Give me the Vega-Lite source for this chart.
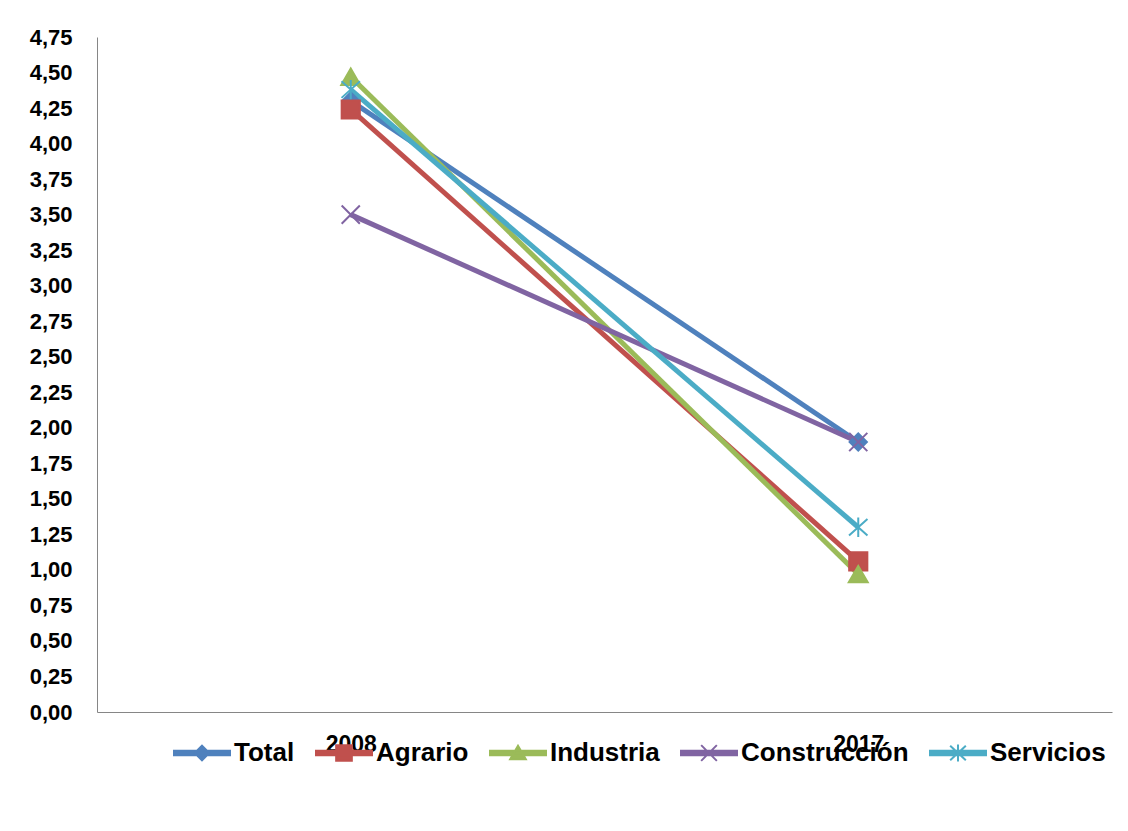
{
  "$schema": "https://vega.github.io/schema/vega-lite/v6.json",
  "width": 1015,
  "height": 675,
  "autosize": {"type": "none"},
  "padding": {"left": 97, "top": 37, "right": 16, "bottom": 119},
  "background": "white",
  "config": {"view": {"stroke": null}, "font": "Liberation Sans"},
  "data": {
    "values": [
      {"series": "Total", "year": "2008", "value": 4.30},
      {"series": "Total", "year": "2017", "value": 1.90},
      {"series": "Agrario", "year": "2008", "value": 4.24},
      {"series": "Agrario", "year": "2017", "value": 1.06},
      {"series": "Industria", "year": "2008", "value": 4.47},
      {"series": "Industria", "year": "2017", "value": 0.97},
      {"series": "Construcción", "year": "2008", "value": 3.50},
      {"series": "Construcción", "year": "2017", "value": 1.90},
      {"series": "Servicios", "year": "2008", "value": 4.38},
      {"series": "Servicios", "year": "2017", "value": 1.30}
    ]
  },
  "encoding": {
    "x": {
      "field": "year", "type": "ordinal",
      "scale": {"type": "point", "padding": 0.5},
      "axis": {
        "title": null, "labelAngle": 0, "domainColor": "#868686", "domainWidth": 1,
        "ticks": false, "tickSize": 0, "labelFont": "Liberation Sans", "labelFontSize": 23,
        "labelFontWeight": "bold", "labelColor": "black", "labelPadding": 21
      }
    },
    "y": {
      "field": "value", "type": "quantitative",
      "scale": {"domain": [0, 4.75], "nice": false, "zero": true},
      "axis": {
        "title": null, "grid": false, "ticks": false, "tickSize": 0,
        "values": [0, 0.25, 0.5, 0.75, 1, 1.25, 1.5, 1.75, 2, 2.25, 2.5, 2.75, 3, 3.25, 3.5, 3.75, 4, 4.25, 4.5, 4.75],
        "labelExpr": "replace(format(datum.value, '.2f'), '.', ',')",
        "domainColor": "#868686", "domainWidth": 1,
        "labelFont": "Liberation Sans", "labelFontSize": 22, "labelFontWeight": "bold",
        "labelColor": "black", "labelPadding": 25
      }
    }
  },
  "layer": [
    {
      "mark": {"type": "line", "strokeWidth": 5, "strokeJoin": "round"},
      "encoding": {
        "color": {
          "field": "series", "type": "nominal",
          "scale": {
            "domain": ["Total", "Agrario", "Industria", "Construcción", "Servicios"],
            "range": ["#4F81BD", "#C0504D", "#9BBB59", "#8064A2", "#4BACC6"]
          },
          "legend": {
            "orient": "none", "direction": "horizontal", "legendX": 76, "legendY": 687,
            "title": null, "padding": 0, "symbolSize": 3136,
            "labelFont": "Liberation Sans", "labelFontSize": 26, "labelFontWeight": "bold",
            "labelColor": "black", "labelOffset": 3, "columnPadding": 17, "labelLimit": 0,
            "symbolStrokeWidth": 2,
            "encoding": {
              "symbols": {
                "shape": {"value": {"expr": "datum.value === 'Total' ? 'M-1,-0.08H1V0.08H-1ZM0,-0.26L0.26,0L0,0.26L-0.26,0Z' : datum.value === 'Agrario' ? 'M-1,-0.08H1V0.08H-1ZM-0.28,-0.28H0.28V0.28H-0.28Z' : datum.value === 'Industria' ? 'M-1,-0.08H1V0.08H-1ZM0,-0.26L0.28,0.22H-0.28Z' : datum.value === 'Construcción' ? 'M-1,-0.08H1V0.08H-1ZM-0.28,-0.28L0.28,0.28M-0.28,0.28L0.28,-0.28' : 'M-1,-0.08H1V0.08H-1ZM-0.28,-0.26L0.28,0.26M-0.28,0.26L0.28,-0.26M0,-0.3V0.3'"}},
                "fill": {"value": {"expr": "scale('color', datum.value)"}},
                "stroke": {"value": {"expr": "scale('color', datum.value)"}},
                "strokeWidth": {"value": 2},
                "opacity": {"value": 1}
              }
            }
          }
        }
      }
    },
    {
      "transform": [{"filter": {"field": "series", "equal": "Total"}}],
      "mark": {"type": "point", "shape": "diamond", "filled": true, "color": "#4F81BD", "stroke": "#4F81BD", "strokeWidth": 2, "opacity": 1, "size": 300}
    },
    {
      "transform": [{"filter": {"field": "series", "equal": "Agrario"}}],
      "mark": {"type": "point", "shape": "square", "filled": true, "color": "#C0504D", "stroke": "#C0504D", "strokeWidth": 2, "opacity": 1, "size": 330}
    },
    {
      "transform": [{"filter": {"field": "series", "equal": "Industria"}}],
      "mark": {"type": "point", "shape": "triangle-up", "filled": true, "color": "#9BBB59", "stroke": "#9BBB59", "strokeWidth": 2, "opacity": 1, "size": 360}
    },
    {
      "transform": [{"filter": {"field": "series", "equal": "Construcción"}}],
      "mark": {"type": "point", "shape": "M-1,-1L1,1M-1,1L1,-1", "filled": false, "color": "#8064A2", "strokeWidth": 2, "opacity": 1, "size": 330}
    },
    {
      "transform": [{"filter": {"field": "series", "equal": "Servicios"}}],
      "mark": {"type": "point", "shape": "M-1,-0.9L1,0.9M-1,0.9L1,-0.9M0,-1.05V1.05", "filled": false, "color": "#4BACC6", "strokeWidth": 2, "opacity": 1, "size": 340}
    }
  ]
}
